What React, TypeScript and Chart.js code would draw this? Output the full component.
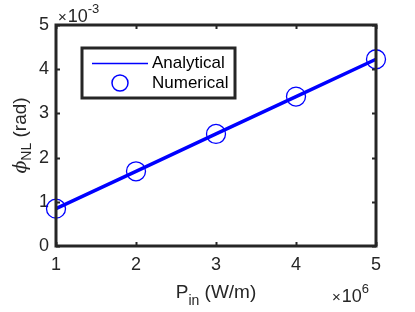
import React, { useEffect, useRef } from "react";
import { Chart, registerables } from "chart.js";

Chart.register(...registerables);

// x: input power P_in (units of 1e6 W/m)
const xValues = [1, 2, 3, 4, 5];
// y: nonlinear phase (units of 1e-3 rad)
const analyticalValues = [0.845, 1.69, 2.535, 3.38, 4.225];
const numericalValues = [0.845, 1.69, 2.535, 3.38, 4.225];
const xTickValues = [1, 2, 3, 4, 5];
const yTickValues = [0, 1, 2, 3, 4, 5];
const seriesLabels = ["Analytical", "Numerical"];

const FONT = '"Liberation Sans", Arial, sans-serif';
const AXIS = "#262626";
const BLUE = "#0000ff";

const decorPlugin = {
  id: "decor",
  afterDraw(chart: any) {
    const ctx = chart.ctx as CanvasRenderingContext2D;
    const { left, right, top, bottom } = chart.chartArea;
    const xs = chart.scales.x;
    const ys = chart.scales.y;
    ctx.save();
    // box
    ctx.strokeStyle = AXIS;
    ctx.lineWidth = 3;
    ctx.strokeRect(left, top, right - left, bottom - top);
    // inward ticks
    ctx.lineWidth = 2;
    ctx.beginPath();
    for (const v of xTickValues) {
      const px = Math.round(xs.getPixelForValue(v)) + 0.5;
      ctx.moveTo(px, bottom);
      ctx.lineTo(px, bottom - 4);
      ctx.moveTo(px, top);
      ctx.lineTo(px, top + 4);
    }
    for (const v of yTickValues) {
      const py = Math.round(ys.getPixelForValue(v)) + 0.5;
      ctx.moveTo(left, py);
      ctx.lineTo(left + 4, py);
      ctx.moveTo(right, py);
      ctx.lineTo(right - 4, py);
    }
    ctx.stroke();

    ctx.fillStyle = AXIS;
    ctx.textBaseline = "alphabetic";
    // exponent labels
    const drawExp = (x: number, y: number, exp: string) => {
      ctx.textAlign = "left";
      ctx.font = `15px ${FONT}`;
      ctx.fillText("\u00d7", x, y);
      const wx = ctx.measureText("\u00d7").width;
      ctx.font = `18px ${FONT}`;
      ctx.fillText("10", x + wx + 1, y);
      const w = ctx.measureText("10").width;
      ctx.font = `13px ${FONT}`;
      ctx.fillText(exp, x + wx + 1 + w, y - 9);
    };
    drawExp(left + 2, top - 3, "-3");
    drawExp(right - 44, 302, "6");

    // x title: P_in (W/m)
    {
      const cx = (left + right) / 2;
      const by = 298;
      ctx.font = `19px ${FONT}`;
      const wP = ctx.measureText("P").width;
      ctx.font = `14px ${FONT}`;
      const wSub = ctx.measureText("in").width;
      ctx.font = `19px ${FONT}`;
      const wRest = ctx.measureText(" (W/m)").width;
      const total = wP + wSub + wRest;
      let x0 = cx - total / 2;
      ctx.textAlign = "left";
      ctx.fillText("P", x0, by);
      ctx.font = `14px ${FONT}`;
      ctx.fillText("in", x0 + wP, by + 7);
      ctx.font = `19px ${FONT}`;
      ctx.fillText(" (W/m)", x0 + wP + wSub, by);
    }

    // y title: phi_NL (rad)
    {
      const cy = (top + bottom) / 2;
      ctx.translate(26, cy);
      ctx.rotate(-Math.PI / 2);
      const phiFont = `italic 19px "DejaVu Serif", serif`;
      ctx.font = phiFont;
      const wPhi = ctx.measureText("\u03d5").width;
      ctx.font = `14px ${FONT}`;
      const wSub = ctx.measureText("NL").width;
      ctx.font = `19px ${FONT}`;
      const wRest = ctx.measureText(" (rad)").width;
      const total = wPhi + wSub + wRest;
      let x0 = -total / 2;
      ctx.textAlign = "left";
      ctx.font = phiFont;
      ctx.fillText("\u03d5", x0, 0);
      ctx.font = `14px ${FONT}`;
      ctx.fillText("NL", x0 + wPhi, 5);
      ctx.font = `19px ${FONT}`;
      ctx.fillText(" (rad)", x0 + wPhi + wSub, 0);
    }
    ctx.restore();

    // legend box
    ctx.save();
    const lx = 82, ly = 48, lw = 153, lh = 50;
    ctx.fillStyle = "#ffffff";
    ctx.fillRect(lx, ly, lw, lh);
    ctx.strokeStyle = AXIS;
    ctx.lineWidth = 3;
    ctx.strokeRect(lx, ly, lw, lh);
    ctx.strokeStyle = BLUE;
    ctx.lineWidth = 1.5;
    ctx.beginPath();
    ctx.moveTo(92, 63.5);
    ctx.lineTo(148, 63.5);
    ctx.stroke();
    ctx.beginPath();
    ctx.arc(120, 83, 8, 0, Math.PI * 2);
    ctx.stroke();
    ctx.fillStyle = "#000000";
    ctx.font = `17px ${FONT}`;
    ctx.textAlign = "left";
    ctx.textBaseline = "middle";
    ctx.fillText(seriesLabels[0], 152, 63);
    ctx.fillText(seriesLabels[1], 152, 83);
    ctx.restore();
  },
};

export default function App() {
  const ref = useRef<HTMLCanvasElement>(null);
  useEffect(() => {
    if (!ref.current) return;
    const chart = new Chart(ref.current, {
      type: "line",
      data: {
        datasets: [
          {
            label: seriesLabels[0],
            data: xValues.map((x, i) => ({ x, y: analyticalValues[i] })),
            borderColor: BLUE,
            borderWidth: 3.5,
            pointRadius: 0,
            fill: false,
            clip: false as any,
            order: 0,
          },
          {
            label: seriesLabels[1],
            data: xValues.map((x, i) => ({ x, y: numericalValues[i] })),
            borderColor: BLUE,
            backgroundColor: "rgba(0,0,0,0)",
            borderWidth: 1.3,
            showLine: false,
            pointRadius: 9.5,
            pointStyle: "circle",
            clip: false as any,
            order: 1,
          },
        ],
      },
      options: {
        responsive: false,
        animation: false,
        layout: { padding: { left: 0, right: 39, top: 25, bottom: 0 } },
        plugins: { legend: { display: false }, tooltip: { enabled: false } },
        scales: {
          x: {
            type: "linear",
            min: 1,
            max: 5,
            afterFit: (s: any) => {
              s.height = 66;
            },
            afterBuildTicks: (s: any) => {
              s.ticks = xTickValues.map((v) => ({ value: v }));
            },
            grid: { drawOnChartArea: false, drawTicks: false },
            border: { display: false },
            ticks: {
              color: AXIS,
              font: { family: FONT, size: 18 },
              padding: 8,
              callback: (v: any) => String(v),
            },
          },
          y: {
            type: "linear",
            min: 0,
            max: 5,
            afterFit: (s: any) => {
              s.width = 56;
            },
            afterBuildTicks: (s: any) => {
              s.ticks = yTickValues.map((v) => ({ value: v }));
            },
            grid: { drawOnChartArea: false, drawTicks: false },
            border: { display: false },
            ticks: {
              color: AXIS,
              font: { family: FONT, size: 18 },
              padding: 7,
              callback: (v: any) => String(v),
            },
          },
        },
      },
      plugins: [decorPlugin],
    });
    return () => chart.destroy();
  }, []);
  return (
    <div style={{ position: "fixed", left: 0, top: 0, width: 415, height: 312, background: "#fff" }}>
      <canvas ref={ref} width={415} height={312} style={{ display: "block" }} />
    </div>
  );
}
